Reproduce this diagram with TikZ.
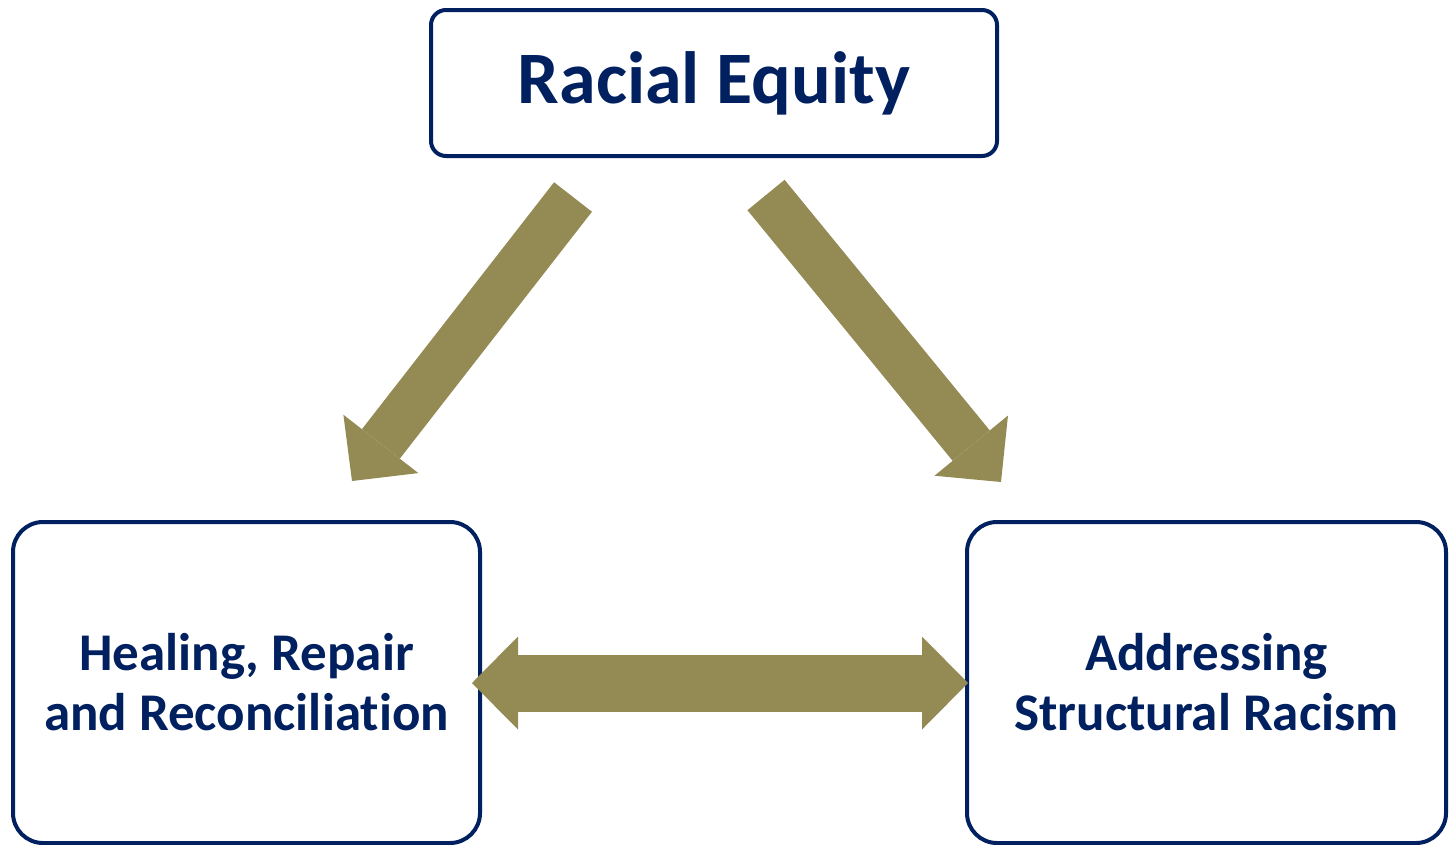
\documentclass[tikz,border=0pt]{standalone}
\usepackage{fontspec}
\setmainfont{Carlito}[Ligatures=NoCommon]
\usetikzlibrary{arrows.meta}
\definecolor{navy}{HTML}{002060}
\definecolor{olive}{HTML}{948A54}

\begin{document}
\begin{tikzpicture}[x=1pt,y=-1pt]
\tikzstyle{box}=[rectangle,draw=navy,line width=4pt,fill=white,text=navy,align=center,font=\bfseries]
\tikzstyle{fat}=[draw=olive,line width=#1]
\useasboundingbox (0,0) rectangle (1455,844);
\clip (0,0) rectangle (1455,844);

\node[box,rounded corners=15pt,minimum width=566pt,minimum height=146pt,font=\bfseries\fontsize{74}{80}\selectfont](equity) at (714,83) {Racial Equity};
\node[box,rounded corners=30pt,minimum width=467pt,minimum height=321pt,font=\bfseries\fontsize{53}{60}\selectfont](healing) at (246.5,682.5) {Healing, Repair\\and Reconciliation};
\node[box,rounded corners=30pt,minimum width=479pt,minimum height=321pt,font=\bfseries\fontsize{53}{60}\selectfont](racism) at (1206.5,682.5) {Addressing\\Structural Racism};

% arrow ends
\coordinate (eqL) at (573,197);
\coordinate (healTip) at (352,481);
\coordinate (eqR) at (766,195);
\coordinate (racTip) at (1001,482);
\coordinate (healSide) at (472,683);
\coordinate (racSide) at (968,683);

\draw[fat=48pt,-{Triangle[width=95pt,length=47pt,line width=0pt]}] (eqL) -- (healTip);
\draw[fat=48pt,-{Triangle[width=95pt,length=47pt,line width=0pt]}] (eqR) -- (racTip);
\draw[fat=57pt,{Triangle[width=93pt,length=46pt,line width=0pt]}-{Triangle[width=93pt,length=46pt,line width=0pt]}] (healSide) -- (racSide);
\end{tikzpicture}
\end{document}
